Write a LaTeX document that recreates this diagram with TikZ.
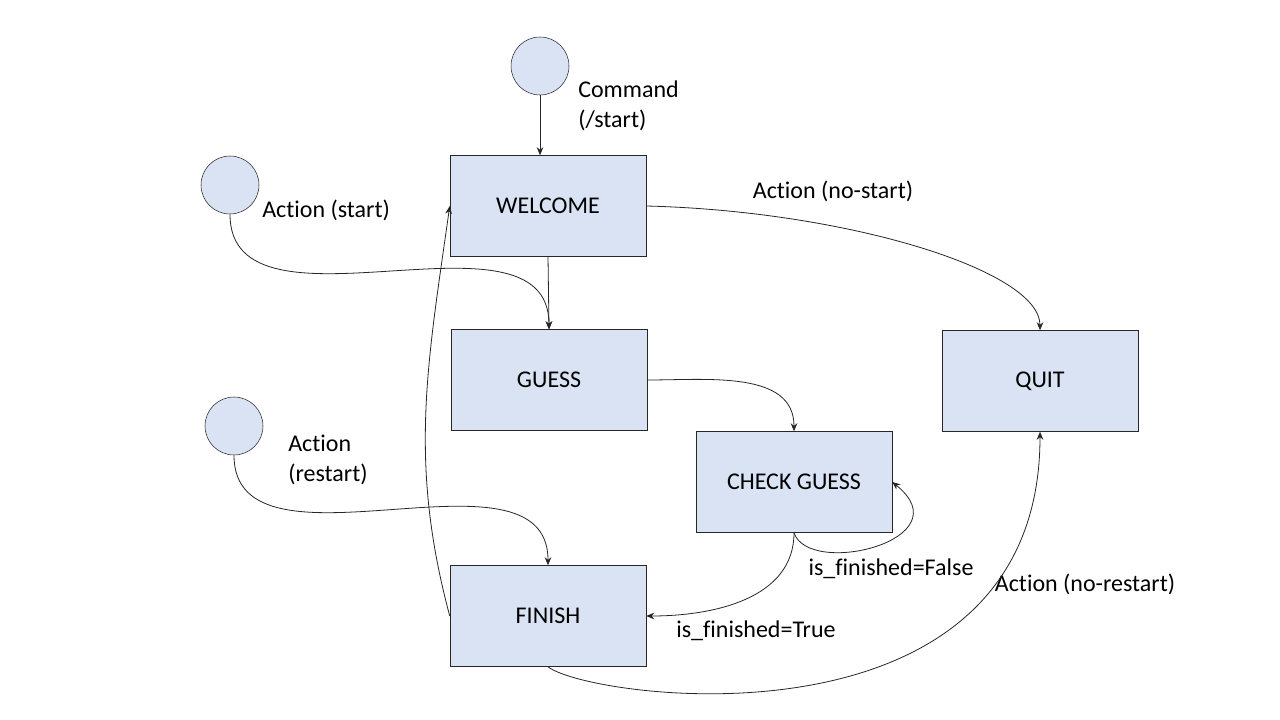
\documentclass[tikz,border=0pt]{standalone}
\usepackage{fontspec}
\setmainfont[Ligatures=NoCommon]{Carlito}
\usetikzlibrary{arrows.meta}
\definecolor{boxfill}{HTML}{DAE3F3}
\tikzset{
  state/.style={draw=black!85, fill=boxfill, minimum width=147pt, minimum height=75.75pt,
    inner sep=0pt, font=\fontsize{18}{22}\selectfont},
  entry/.style={circle, draw=black!85, fill=boxfill, minimum size=43.5pt, inner sep=0pt},
  tag/.style={font=\fontsize{18}{22.5}\selectfont, align=left, inner sep=0pt},
  arc/.style={-{Stealth[length=6pt,width=5pt]}, black!85, line width=0.6pt},
}
\begin{document}
\begin{tikzpicture}[x=0.75pt,y=0.75pt]
  \useasboundingbox (0,0) rectangle (1280,-720);
  \draw
    (540,-66) node[entry] (cmd){}
    (230,-185) node[entry] (startpt){}
    (234,-426) node[entry] (restartpt){}
    (548,-206) node[state] (welcome){WELCOME}
    (549,-380) node[state] (guess){GUESS}
    (1040,-381) node[state] (quit){QUIT}
    (794,-482) node[state] (check){CHECK GUESS}
    (548,-616) node[state] (finish){FINISH};
  \draw
    (578,-106) node[tag, anchor=west] (cmdlbl){Command\\(/start)}
    (262,-210) node[tag, anchor=west] (startlbl){Action (start)}
    (833,-191) node[tag] (nostartlbl){Action (no-start)}
    (288,-460) node[tag, anchor=west] (restartlbl){Action\\(restart)}
    (891,-569) node[tag] (falselbl){is\_finished=False}
    (756,-631) node[tag] (truelbl){is\_finished=True}
    (1085,-584) node[tag] (norestartlbl){Action (no-restart)};
  \begin{scope}[arc]
    \draw (cmd) -- (cmd |- welcome.north);
    \draw (startpt.south) to[out=-90, in=90] (guess.north);
    \draw (welcome.south) -- (guess.north);
    \draw (welcome.east) .. controls +(200,-5) and +(0,60) .. (quit.north);
    \draw (guess.east) to[out=0, in=90] (check.north);
    \draw (check.south) to[out=-90, in=0] (finish.east);
    \draw (check.south) .. controls +(15,-45) and +(72,-58) .. (check.east);
    \draw (restartpt.south) to[out=-90, in=90] (finish.north);
    \draw (finish.west) to[out=105, in=-98] (welcome.west);
    \draw (finish.south) .. controls +(42,-33) and +(0,-328) .. (quit.south);
  \end{scope}
\end{tikzpicture}
\end{document}
